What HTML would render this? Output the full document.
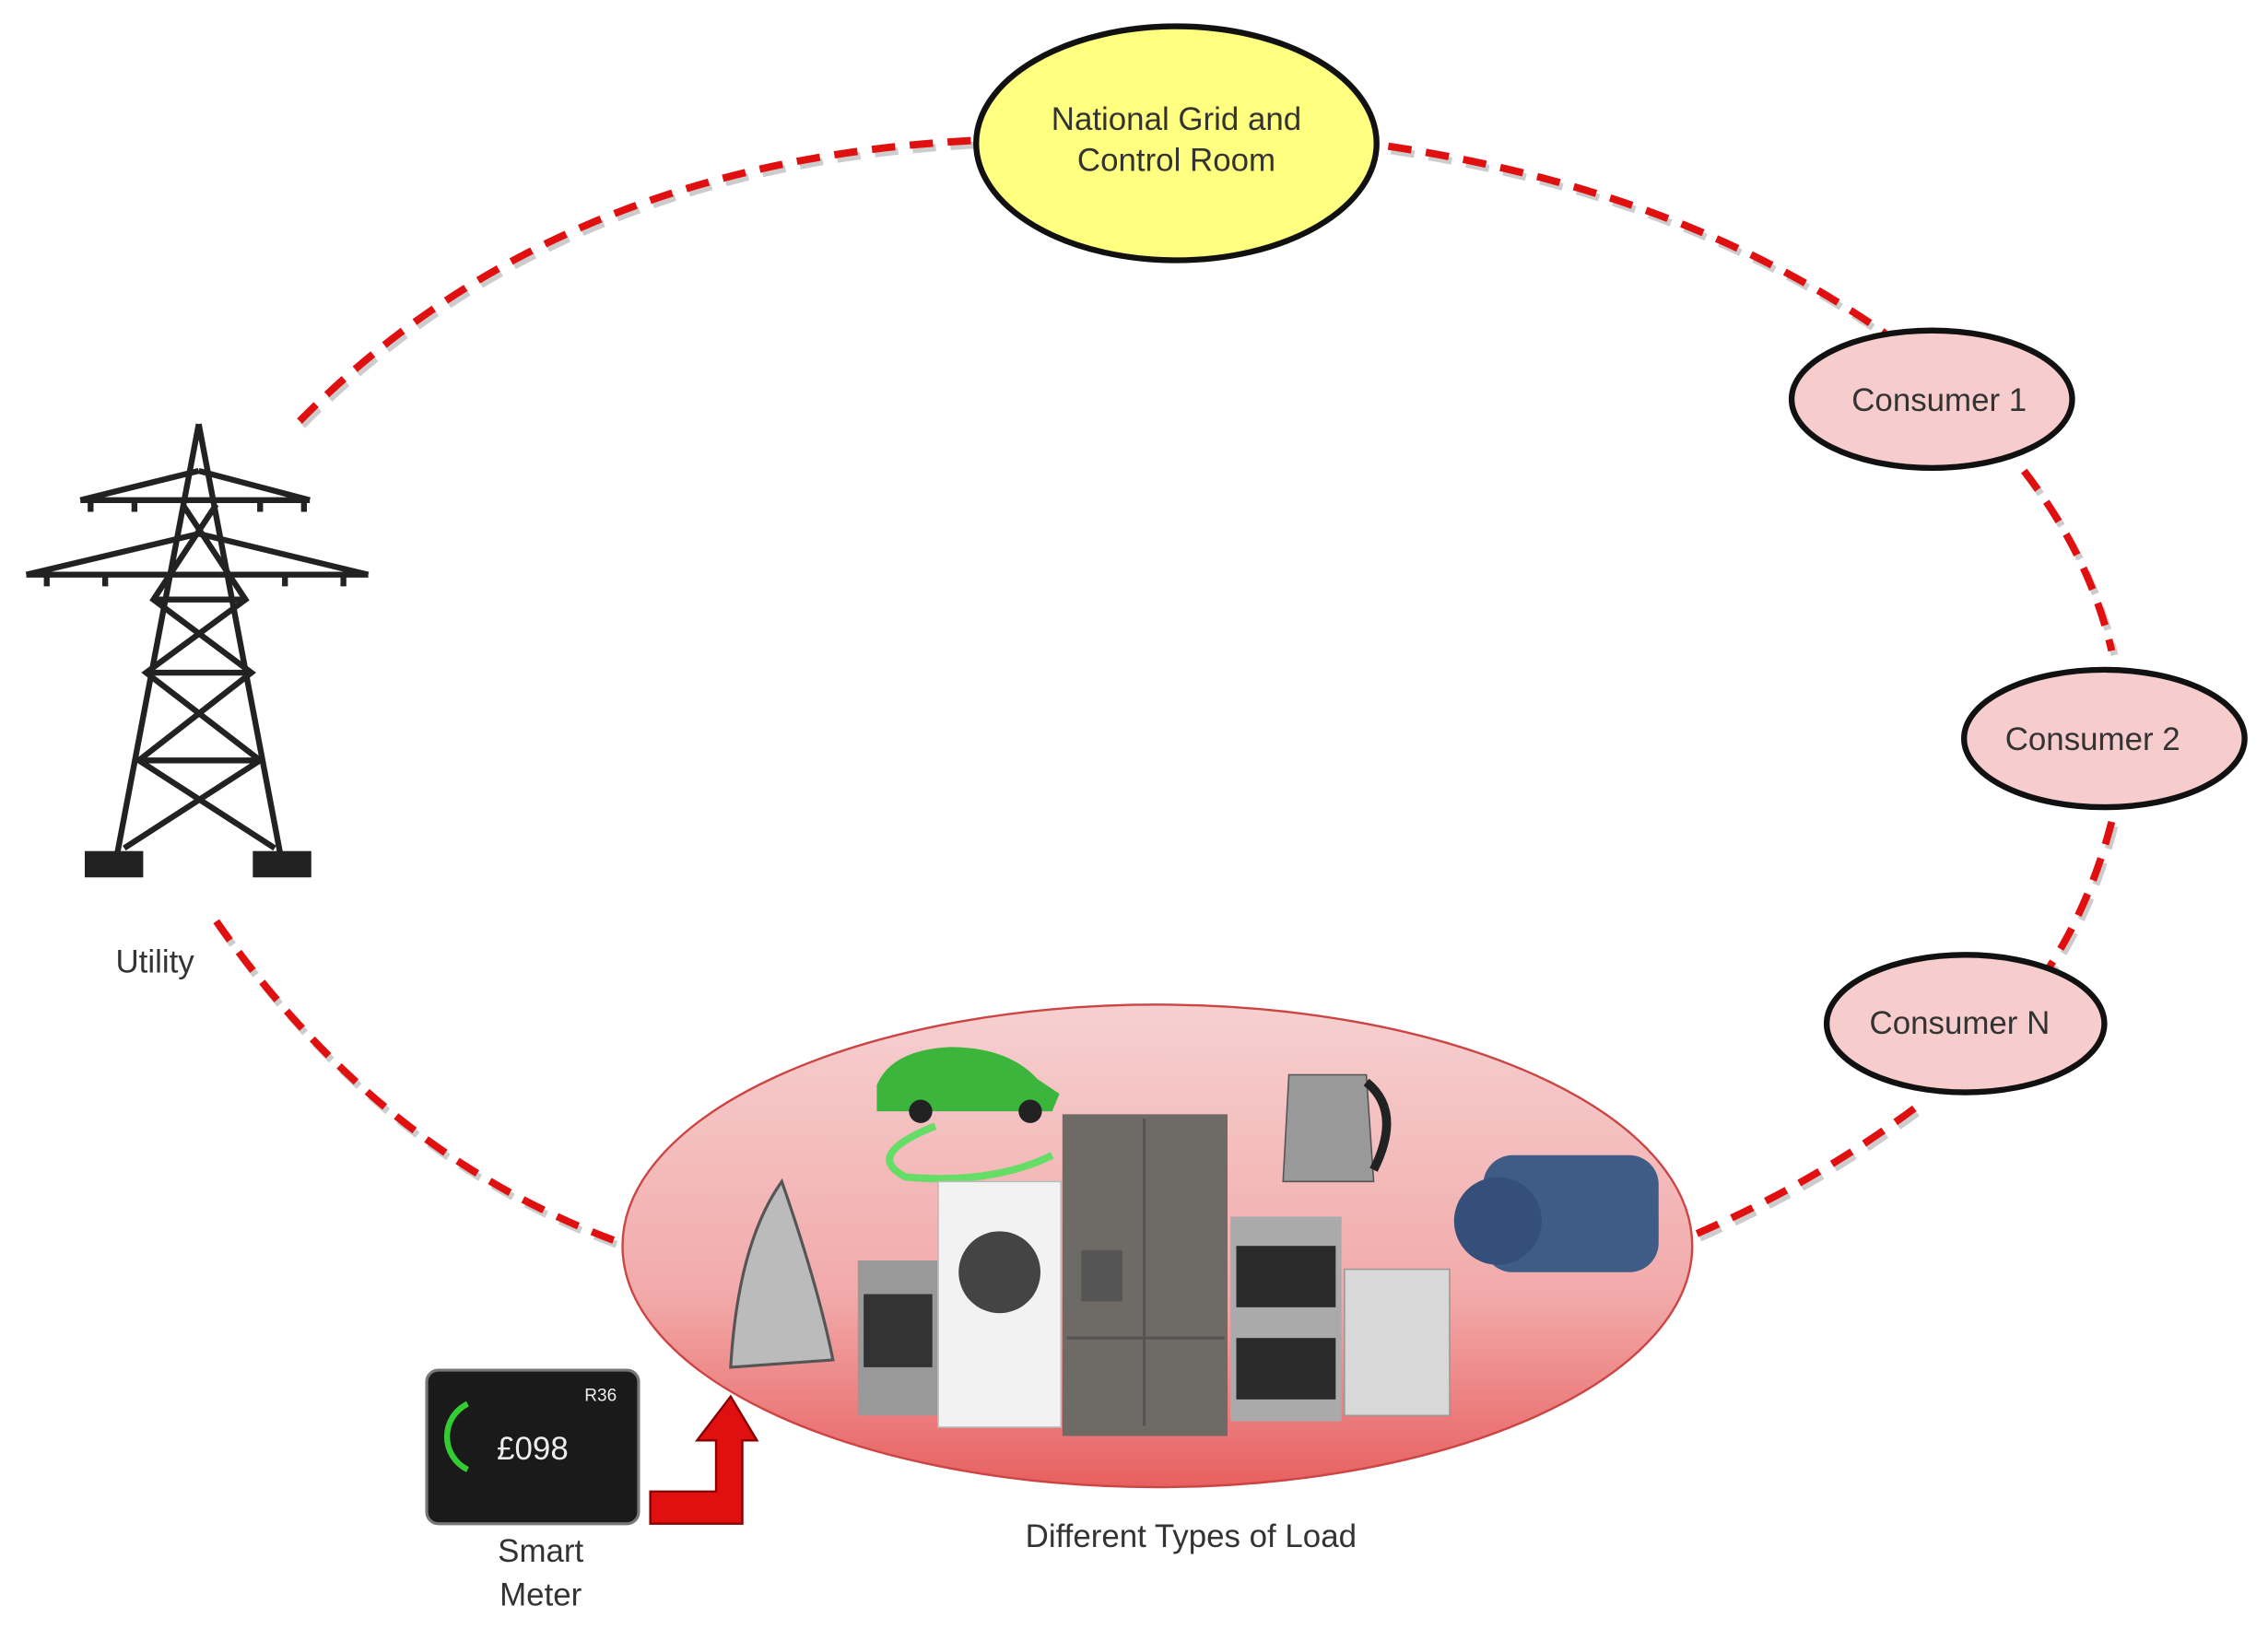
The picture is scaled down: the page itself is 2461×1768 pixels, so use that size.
<!DOCTYPE html>
<html><head><meta charset="utf-8"><style>
html,body{margin:0;padding:0;background:#fff;}
svg{display:block;}
text{font-family:"Liberation Sans",sans-serif;}
</style></head><body>
<svg width="2461" height="1768" viewBox="0 0 1552 1114" preserveAspectRatio="none" xmlns="http://www.w3.org/2000/svg">
<defs>
<linearGradient id="lg" x1="0" y1="0" x2="0" y2="1">
<stop offset="0" stop-color="#f6d0d0"/><stop offset="0.6" stop-color="#f2aaaa"/><stop offset="1" stop-color="#e86060"/>
</linearGradient>
</defs>
<g fill="none" stroke-width="5" stroke-dasharray="16,10">
<g stroke="#ccc" transform="translate(2,3)">
<path d="M205,288 Q380,110 668,96"/>
<path d="M950,100 Q1150,130 1290,228"/>
<path d="M1385,322 Q1430,380 1445,445"/>
<path d="M1445,562 Q1430,620 1400,665"/>
<path d="M1310,758 Q1240,810 1158,845"/>
<path d="M148,630 Q260,790 425,850"/>
</g>
<g stroke="#e01010">
<path d="M205,288 Q380,110 668,96"/>
<path d="M950,100 Q1150,130 1290,228"/>
<path d="M1385,322 Q1430,380 1445,445"/>
<path d="M1445,562 Q1430,620 1400,665"/>
<path d="M1310,758 Q1240,810 1158,845"/>
<path d="M148,630 Q260,790 425,850"/>
</g>
</g>
<ellipse cx="805" cy="98" rx="137" ry="80" fill="#ffff80" stroke="#111" stroke-width="4"/>
<text x="805" y="89" font-size="22" text-anchor="middle" fill="#333">National Grid and</text>
<text x="805" y="117" font-size="22" text-anchor="middle" fill="#333">Control Room</text>
<ellipse cx="1322" cy="273" rx="96" ry="47" fill="#f6cccc" stroke="#111" stroke-width="4"/>
<text x="1327" y="281" font-size="22" text-anchor="middle" fill="#333">Consumer 1</text>
<ellipse cx="1440" cy="505" rx="96" ry="47" fill="#f6cccc" stroke="#111" stroke-width="4"/>
<text x="1432" y="513" font-size="22" text-anchor="middle" fill="#333">Consumer 2</text>
<ellipse cx="1345" cy="700" rx="95" ry="47" fill="#f6cccc" stroke="#111" stroke-width="4"/>
<text x="1341" y="707" font-size="22" text-anchor="middle" fill="#333">Consumer N</text>
<!-- tower -->
<g stroke="#222" stroke-width="4" fill="none">
<path d="M136,290 L80,585 M136,290 L192,585"/>
<path d="M55,342 L212,342 M136,322 L55,342 M136,322 L212,342"/>
<path d="M18,393 L252,393 M136,365 L18,393 M136,365 L252,393"/>
<path d="M125,345 L168,410 L100,460 L178,520 L85,580 M148,345 L105,410 L172,460 L95,520 L188,580"/>
<path d="M105,410 L168,410 M100,460 L172,460 M95,520 L178,520"/>
<path d="M62,342 v8 M92,342 v8 M178,342 v8 M208,342 v8 M32,393 v8 M72,393 v8 M195,393 v8 M235,393 v8"/>
</g>
<rect x="58" y="582" width="40" height="18" fill="#222"/><rect x="173" y="582" width="40" height="18" fill="#222"/>
<text x="106" y="665" font-size="22" text-anchor="middle" fill="#333">Utility</text>
<!-- load ellipse -->
<ellipse cx="792" cy="852" rx="366" ry="165" fill="url(#lg)" stroke="#c44" stroke-width="1.5"/>
<!-- iron -->
<path d="M500,935 Q505,850 535,808 Q560,880 570,930 Z" fill="#bbb" stroke="#555" stroke-width="2"/>
<!-- car -->
<path d="M600,742 Q610,718 650,716 Q690,716 710,738 L725,748 L720,760 L600,760 Z" fill="#3bb53b"/>
<circle cx="630" cy="760" r="8" fill="#222"/><circle cx="705" cy="760" r="8" fill="#222"/>
<path d="M640,770 Q590,790 620,805 Q680,810 720,790" stroke="#6d6" stroke-width="5" fill="none"/>
<!-- stove -->
<rect x="587" y="862" width="55" height="106" fill="#999"/><rect x="591" y="885" width="47" height="50" fill="#333"/>
<!-- washer -->
<rect x="642" y="808" width="84" height="168" fill="#f2f2f2" stroke="#bbb"/><circle cx="684" cy="870" r="28" fill="#444"/>
<!-- fridge -->
<rect x="727" y="762" width="113" height="220" fill="#6e6a65"/><path d="M783,765 V975 M730,915 H838" stroke="#555" stroke-width="2"/>
<rect x="740" y="855" width="28" height="35" fill="#555"/>
<!-- oven -->
<rect x="842" y="832" width="76" height="140" fill="#aaa"/><rect x="846" y="852" width="68" height="42" fill="#2b2b2b"/><rect x="846" y="915" width="68" height="42" fill="#2b2b2b"/>
<!-- dishwasher -->
<rect x="920" y="868" width="72" height="100" fill="#d8d8d8" stroke="#999"/>
<!-- kettle -->
<path d="M882,735 L935,735 L940,808 L878,808 Z" fill="#999" stroke="#555"/><path d="M935,740 Q960,760 940,800" stroke="#222" stroke-width="6" fill="none"/>
<!-- pump -->
<rect x="1015" y="790" width="120" height="80" rx="20" fill="#3e5c85"/><circle cx="1025" cy="835" r="30" fill="#34507a"/>
<!-- smart meter -->
<rect x="292" y="937" width="145" height="105" rx="8" fill="#1a1a1a" stroke="#777" stroke-width="2"/>
<text x="340" y="998" font-size="22" fill="#eee">£098</text>
<text x="400" y="958" font-size="12" fill="#eee">R36</text>
<path d="M320,960 A25,25 0 0,0 320,1005" stroke="#3c3" stroke-width="4" fill="none"/>
<!-- red arrow -->
<path d="M445,1042 L445,1020 L490,1020 L490,985 L477,985 L500,955 L518,985 L508,985 L508,1042 Z" fill="#e01010" stroke="#800" stroke-width="1.5"/>
<text x="370" y="1068" font-size="22" text-anchor="middle" fill="#333">Smart</text>
<text x="370" y="1098" font-size="22" text-anchor="middle" fill="#333">Meter</text>
<text x="815" y="1058" font-size="22" text-anchor="middle" fill="#333">Different Types of Load</text>
</svg>
</body></html>
